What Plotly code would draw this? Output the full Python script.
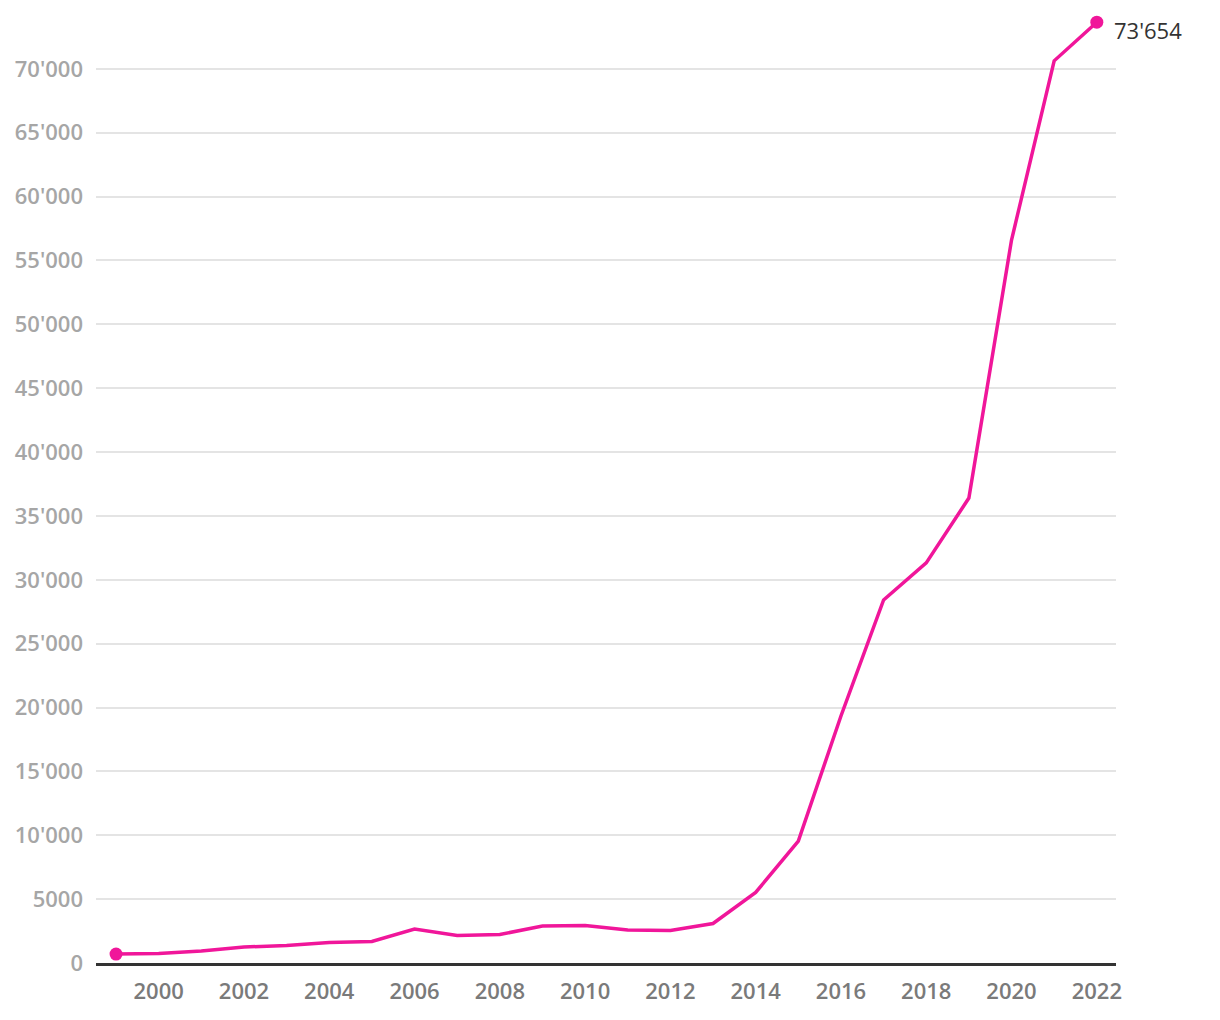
import plotly.graph_objects as go

years = list(range(1999, 2023))
values = [700, 750, 940, 1250, 1370, 1600, 1680, 2660, 2150, 2230, 2900, 2940,
          2580, 2550, 3090, 5520, 9550, 19340, 28420, 31320, 36400, 56600, 70630, 73654]
ytick_vals = [0, 5000, 10000, 15000, 20000, 25000, 30000, 35000, 40000, 45000, 50000, 55000, 60000, 65000, 70000]
ytick_text = ["0", "5000", "10'000", "15'000", "20'000", "25'000", "30'000", "35'000",
              "40'000", "45'000", "50'000", "55'000", "60'000", "65'000", "70'000"]
xtick_vals = list(range(2000, 2023, 2))
last_label = "73'654"

pink = "#f0169a"

fig = go.Figure()
fig.add_trace(go.Scatter(
    x=years, y=values, mode="lines",
    line=dict(color=pink, width=3.5),
    hoverinfo="x+y", showlegend=False,
))
fig.add_trace(go.Scatter(
    x=[years[0], years[-1]], y=[values[0], values[-1]], mode="markers",
    marker=dict(color=pink, size=13),
    cliponaxis=False, showlegend=False,
))
fig.add_annotation(
    x=years[-1], y=values[-1], text=last_label, showarrow=False,
    xanchor="left", yanchor="middle", xshift=15, yshift=-8,
    font=dict(family="Open Sans", size=22, color="#333333"),
)

fig.update_layout(
    width=1220, height=1020,
    margin=dict(l=96, r=104, t=5, b=57),
    plot_bgcolor="white", paper_bgcolor="white",
    font=dict(family="Open Sans"),
    xaxis=dict(
        range=[1998.53, 2022.45],
        tickvals=xtick_vals,
        showgrid=False, zeroline=False,
        showline=True, linecolor="#333333", linewidth=2.5,
        ticks="", ticklabelstandoff=7,
        tickfont=dict(family="Open Sans", size=22, color="#7a7a7a", weight=600),
    ),
    yaxis=dict(
        range=[0, 75000],
        tickvals=ytick_vals, ticktext=ytick_text,
        showgrid=True, gridcolor="#e4e4e4", gridwidth=1.5,
        zeroline=False, showline=False, ticks="",
        ticklabelstandoff=12,
        tickfont=dict(family="Open Sans", size=22, color="#a6a6a6", weight=600),
    ),
)

fig.write_html("out.html")
